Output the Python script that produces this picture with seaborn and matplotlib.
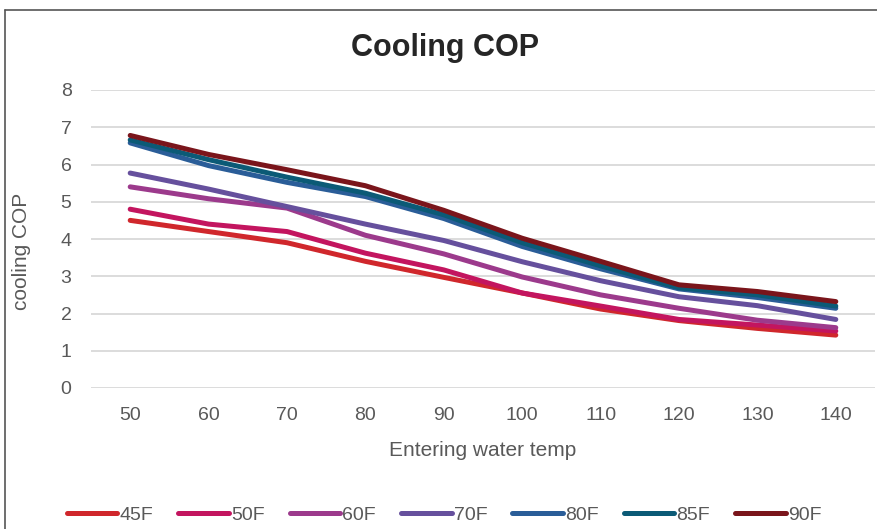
import numpy as np
import pandas as pd
import seaborn as sns
import matplotlib.pyplot as plt
from matplotlib.lines import Line2D

# Entering water temperature (x) and cooling COP per series
water_temp = [50, 60, 70, 80, 90, 100, 110, 120, 130, 140]
series_names = ['45F', '50F', '60F', '70F', '80F', '85F', '90F']
cop_45F = [4.50, 4.20, 3.90, 3.40, 2.97, 2.55, 2.12, 1.81, 1.60, 1.42]
cop_50F = [4.80, 4.40, 4.20, 3.62, 3.17, 2.55, 2.20, 1.84, 1.69, 1.53]
cop_60F = [5.40, 5.08, 4.83, 4.10, 3.60, 2.98, 2.50, 2.14, 1.82, 1.62]
cop_70F = [5.77, 5.34, 4.87, 4.40, 3.96, 3.39, 2.88, 2.45, 2.21, 1.84]
cop_80F = [6.58, 5.97, 5.52, 5.14, 4.55, 3.80, 3.20, 2.66, 2.43, 2.14]
cop_85F = [6.66, 6.13, 5.66, 5.23, 4.65, 3.90, 3.28, 2.69, 2.50, 2.20]
cop_90F = [6.78, 6.27, 5.86, 5.43, 4.77, 4.02, 3.40, 2.77, 2.59, 2.32]

palette = {
    '45F': '#d0272c',
    '50F': '#c3155f',
    '60F': '#9c3a8c',
    '70F': '#66509d',
    '80F': '#2a5d98',
    '85F': '#0b5a76',
    '90F': '#7a151b',
}

values = [cop_45F, cop_50F, cop_60F, cop_70F, cop_80F, cop_85F, cop_90F]
df = pd.DataFrame({
    'temp': np.tile(water_temp, len(series_names)),
    'cop': np.concatenate(values),
    'series': np.repeat(series_names, len(water_temp)),
})

sns.set_style('white')
plt.rcParams['font.family'] = ['Liberation Sans', 'DejaVu Sans']

fig = plt.figure(figsize=(8.77, 5.29), dpi=100)
ax = fig.add_axes([91 / 877, 141 / 529, 784 / 877, 298 / 529])

sns.lineplot(data=df, x='temp', y='cop', hue='series', palette=palette,
             hue_order=series_names, linewidth=3.6, ax=ax, legend=False,
             solid_capstyle='round', solid_joinstyle='round')

ax.set_xlim(45, 145)
ax.set_ylim(0, 8)
ax.set_xticks(water_temp)
ax.set_yticks(range(0, 9))
ax.grid(axis='y', color='#d9d9d9', linewidth=1.3)
ax.set_axisbelow(True)
for s in ax.spines.values():
    s.set_visible(False)
ax.tick_params(axis='both', length=0, labelsize=14, colors='#595959')
ax.tick_params(axis='x', pad=14)
ax.tick_params(axis='y', pad=14)
ax.set_xlabel('Entering water temp', fontsize=15, color='#595959', labelpad=12)
ax.set_ylabel('cooling COP', fontsize=15, color='#595959')
ax.yaxis.set_label_coords(-0.077, 0.46)

fig.text(445 / 877, 1 - 48 / 529, 'Cooling COP', ha='center', va='center',
         fontsize=22, fontweight='bold', color='#262626')

# chart frame (top and left edges visible in the crop)
fig.add_artist(Line2D([5 / 877, 5 / 877], [0, 1 - 10 / 529], color='#555555', lw=1.2))
fig.add_artist(Line2D([5 / 877, 1], [1 - 10 / 529, 1 - 10 / 529], color='#555555', lw=1.2))

handles = [Line2D([0], [0], color=palette[n], lw=3.6, solid_capstyle='round') for n in series_names]
fig.legend(handles, series_names, loc='center', ncol=7,
           bbox_to_anchor=(444 / 877, 1 - 515 / 529), frameon=False,
           fontsize=14, handlelength=2.6, handletextpad=0.1, columnspacing=1.3,
           labelcolor='#595959')

fig.savefig('out.png', dpi=100)
